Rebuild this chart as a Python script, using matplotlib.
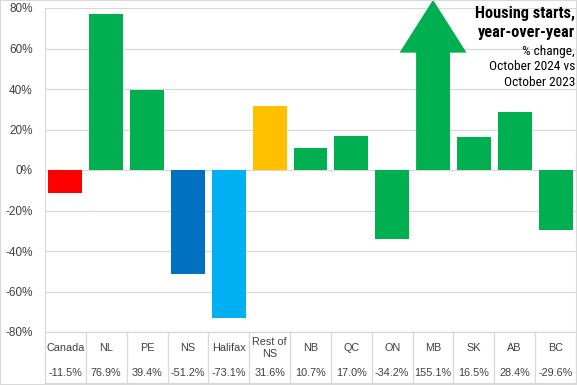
import matplotlib
matplotlib.use("Agg")
import matplotlib.pyplot as plt
import matplotlib.transforms as mtransforms
from matplotlib.patches import FancyArrow, Rectangle
import numpy as np

# datos
categories = ["Canada", "NL", "PE", "NS", "Halifax", "Rest of\nNS", "NB", "QC", "ON", "MB", "SK", "AB", "BC"]
values = [-11.5, 76.9, 39.4, -51.2, -73.1, 31.6, 10.7, 17.0, -34.2, 155.1, 16.5, 28.4, -29.6]
colors = ["#FF0000", "#00B050", "#00B050", "#0070C0", "#00B0F0", "#FFC000", "#00B050",
          "#00B050", "#00B050", "#00B050", "#00B050", "#00B050", "#00B050"]
yticks = [-80, -60, -40, -20, 0, 20, 40, 60, 80]

W, H = 577, 385
fig = plt.figure(figsize=(W / 100, H / 100), dpi=100)
ax = fig.add_axes([45 / W, 1 - 332 / H, 531 / W, 324 / H])

ymin, ymax = -80, 80
grid_c = "#D9D9D9"
text_c = "#404040"
title_font = "Roboto Condensed"
body_font = "Liberation Sans"

for i, (v, c) in enumerate(zip(values, colors)):
    if v > ymax:
        # barra fuera de escala -> flecha
        ax.add_patch(FancyArrow(i, 0, 0, ymax + 4, width=0.83, head_width=1.64,
                                head_length=0.31 * (ymax + 4), length_includes_head=True,
                                color=c, lw=0, clip_on=False, zorder=3))
    else:
        ax.bar(i, v, width=0.83, color=c, zorder=3)

ax.set_xlim(-0.5, len(categories) - 0.5)
ax.set_ylim(ymin, ymax)
ax.set_yticks(yticks)
ax.set_yticklabels([f"{t}%" for t in yticks], fontsize=8.5, color=text_c, family=body_font)
ax.tick_params(axis="y", length=0, pad=9)
ax.set_xticks([])
ax.grid(axis="y", color=grid_c, linewidth=0.9, zorder=0)
for s in ["top", "right", "bottom"]:
    ax.spines[s].set_visible(False)
ax.spines["left"].set_color(grid_c)

# tabla de datos bajo el eje
trans = mtransforms.blended_transform_factory(ax.transData, ax.transAxes)
tb = -51 / 324
ax.plot([-0.5, len(categories) - 0.5], [0, 0], transform=trans, color=grid_c, lw=0.9, clip_on=False)
ax.plot([-0.5, len(categories) - 0.5], [tb, tb], transform=trans, color=grid_c, lw=0.9, clip_on=False)
for b in np.arange(-0.5, len(categories), 1.0):
    ax.plot([b, b], [0, tb], transform=trans, color=grid_c, lw=0.9, clip_on=False)
for i, (cat, v) in enumerate(zip(categories, values)):
    ax.text(i, -16 / 324, cat, transform=trans, ha="center", va="center", fontsize=7.8,
            color=text_c, family=body_font, linespacing=1.25)
    ax.text(i, -41 / 324, f"{v:.1f}%", transform=trans, ha="center", va="center", fontsize=7.8,
            color=text_c, family=body_font)

# título
fig.text(575 / W, 1 - 13 / H, "Housing starts,", ha="right", va="center", fontsize=11.7,
         fontweight="bold", family=title_font, color="black")
fig.text(575 / W, 1 - 33 / H, "year-over-year", ha="right", va="center", fontsize=11.7,
         fontweight="bold", family=title_font, color="black")
for yy, t in [(51, "% change,"), (67, "October 2024 vs"), (83, "October 2023")]:
    fig.text(575 / W, 1 - yy / H, t, ha="right", va="center", fontsize=9.6,
             family=title_font, color="black")

fig.patches.append(Rectangle((0, 0), 1, 1, transform=fig.transFigure, fill=False,
                             edgecolor=grid_c, lw=1.5))

fig.savefig("out.png", dpi=100)
